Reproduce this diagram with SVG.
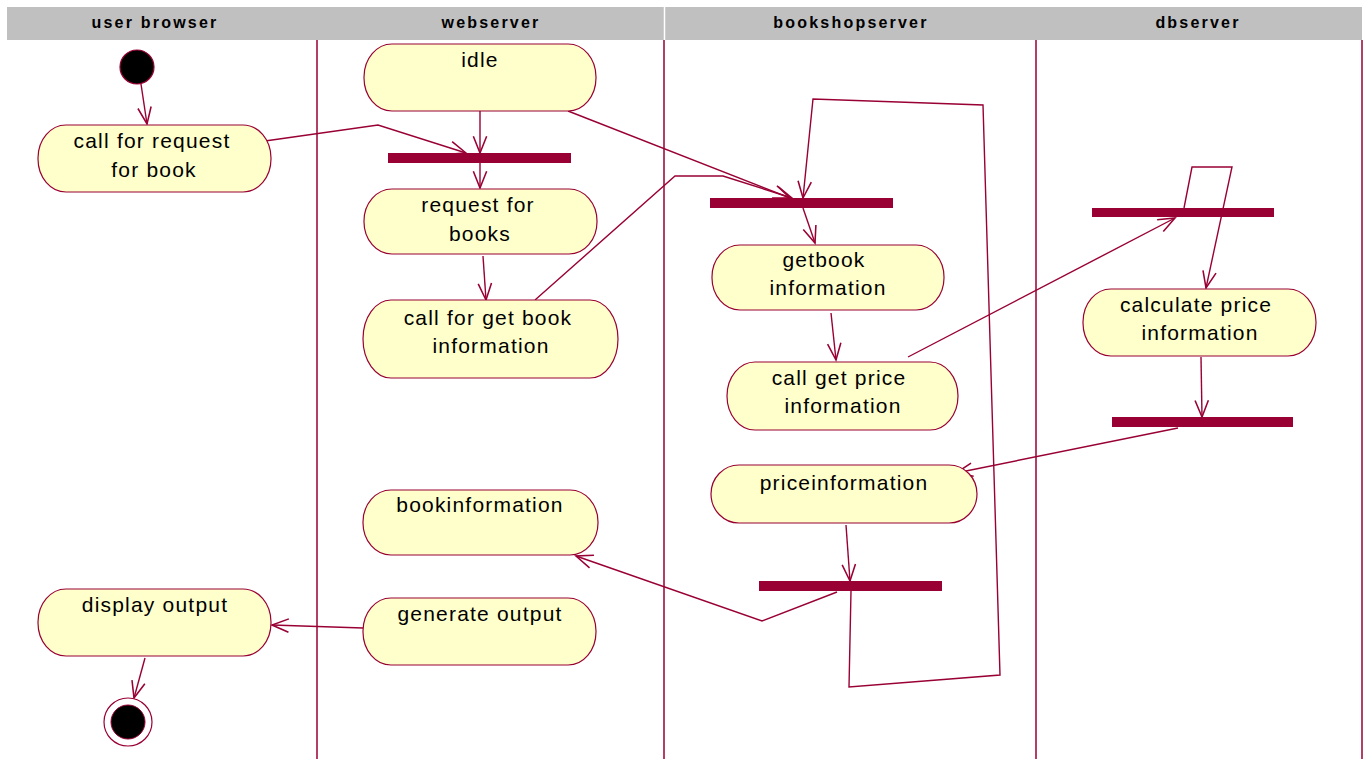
<svg xmlns="http://www.w3.org/2000/svg" width="1367" height="759" viewBox="0 0 1367 759">
<defs>
<style>
.hdr{font-family:"Liberation Sans",Arial,sans-serif;font-size:16px;font-weight:bold;letter-spacing:2.2px;text-anchor:middle;fill:#000}
.lane{stroke:#990033;stroke-width:1.5;fill:none}
.st{fill:#ffffcc;stroke:#990033;stroke-width:1.2}
.lbl{font-family:"Liberation Sans",Arial,sans-serif;font-size:21px;letter-spacing:1.2px;text-anchor:middle;fill:#000}
.bar{fill:#990033}
.ln{stroke:#990033;stroke-width:1.4;fill:none}
</style>
<marker id="ah" markerUnits="userSpaceOnUse" markerWidth="20" markerHeight="20" viewBox="-16 -8 18 16" refX="0" refY="0" orient="auto">
<path d="M -15 -6 L 0 0 L -15 6" fill="none" stroke="#990033" stroke-width="1.4"/>
</marker>
</defs>
<rect width="1367" height="759" fill="#ffffff"/>
<g id="header">
<rect x="7" y="7" width="1355" height="33" fill="#c0c0c0"/>
<line x1="664.5" y1="7" x2="664.5" y2="40" stroke="#ffffff" stroke-width="1.5"/>
<text class="hdr" x="155" y="28">user browser</text>
<text class="hdr" x="491" y="28">webserver</text>
<text class="hdr" x="851" y="28">bookshopserver</text>
<text class="hdr" x="1198" y="28">dbserver</text>
</g>
<g id="lanes">
<line class="lane" x1="317" y1="40" x2="317" y2="759"/>
<line class="lane" x1="664" y1="40" x2="664" y2="759"/>
<line class="lane" x1="1036" y1="40" x2="1036" y2="759"/>
<line class="lane" x1="1362" y1="40" x2="1362" y2="759"/>
</g>
<g id="connectors">
<line class="ln" x1="141" y1="84" x2="147" y2="124" marker-end="url(#ah)"/>
<polyline class="ln" points="265,141 378,125 466,153" marker-end="url(#ah)"/>
<line class="ln" x1="480" y1="111" x2="480" y2="153" marker-end="url(#ah)"/>
<line class="ln" x1="480" y1="163" x2="480" y2="188" marker-end="url(#ah)"/>
<line class="ln" x1="483" y1="256" x2="486" y2="300" marker-end="url(#ah)"/>
<line class="ln" x1="568" y1="111" x2="790" y2="198" marker-end="url(#ah)"/>
<polyline class="ln" points="535,300 675,176 723,176 792,198" marker-end="url(#ah)"/>
<polyline class="ln" points="851,591 849,687 1000,675 983,105 813,99 803,198" marker-end="url(#ah)"/>
<line class="ln" x1="803" y1="208" x2="815" y2="243" marker-end="url(#ah)"/>
<line class="ln" x1="831" y1="313" x2="836" y2="360" marker-end="url(#ah)"/>
<line class="ln" x1="908" y1="357" x2="1175" y2="218" marker-end="url(#ah)"/>
<polyline class="ln" points="1184,208 1192,167 1232,167 1206,288" marker-end="url(#ah)"/>
<line class="ln" x1="1201" y1="357" x2="1202" y2="417" marker-end="url(#ah)"/>
<line class="ln" x1="1178" y1="428" x2="956" y2="473" marker-end="url(#ah)"/>
<line class="ln" x1="846" y1="525" x2="850" y2="581" marker-end="url(#ah)"/>
<polyline class="ln" points="837,592 762,621 576,556" marker-end="url(#ah)"/>
<line class="ln" x1="363" y1="628" x2="272" y2="625" marker-end="url(#ah)"/>
<line class="ln" x1="145" y1="658" x2="134" y2="698" marker-end="url(#ah)"/>
</g>
<g id="start">
<circle cx="137" cy="67" r="17" fill="#000" stroke="#990033" stroke-width="1.2"/>
</g>
<g id="n-callrequest">
<rect class="st" x="38" y="125" width="233" height="67" rx="28" ry="33"/>
<text class="lbl" x="152" y="148">call for request</text>
<text class="lbl" x="154" y="177">for book</text>
</g>
<g id="n-idle">
<rect class="st" x="364" y="44" width="232" height="67" rx="28" ry="33"/>
<text class="lbl" x="480" y="67">idle</text>
</g>
<g id="bar1"><rect class="bar" x="388" y="153" width="183" height="10"/></g>
<g id="n-requestbooks">
<rect class="st" x="364" y="189" width="233" height="65" rx="28" ry="32"/>
<text class="lbl" x="478" y="212">request for</text>
<text class="lbl" x="480" y="241">books</text>
</g>
<g id="n-callgetbook">
<rect class="st" x="363" y="300" width="255" height="78" rx="28" ry="39"/>
<text class="lbl" x="488" y="325">call for get book</text>
<text class="lbl" x="491" y="353">information</text>
</g>
<g id="bar2"><rect class="bar" x="710" y="198" width="183" height="10"/></g>
<g id="n-getbook">
<rect class="st" x="712" y="245" width="232" height="65" rx="28" ry="32"/>
<text class="lbl" x="824" y="267">getbook</text>
<text class="lbl" x="828" y="295">information</text>
</g>
<g id="n-callgetprice">
<rect class="st" x="727" y="362" width="231" height="68" rx="28" ry="34"/>
<text class="lbl" x="839" y="385">call get price</text>
<text class="lbl" x="843" y="413">information</text>
</g>
<g id="bar3"><rect class="bar" x="1092" y="208" width="182" height="9"/></g>
<g id="n-calcprice">
<rect class="st" x="1083" y="289" width="233" height="67" rx="28" ry="33"/>
<text class="lbl" x="1196" y="312">calculate price</text>
<text class="lbl" x="1200" y="340">information</text>
</g>
<g id="bar5"><rect class="bar" x="1112" y="417" width="181" height="10"/></g>
<g id="n-priceinfo">
<rect class="st" x="711" y="465" width="266" height="58" rx="28" ry="29"/>
<text class="lbl" x="844" y="490">priceinformation</text>
</g>
<g id="bar4"><rect class="bar" x="759" y="581" width="183" height="10"/></g>
<g id="n-bookinfo">
<rect class="st" x="363" y="490" width="235" height="65" rx="28" ry="32"/>
<text class="lbl" x="480" y="512">bookinformation</text>
</g>
<g id="n-generate">
<rect class="st" x="363" y="598" width="233" height="67" rx="28" ry="33"/>
<text class="lbl" x="480" y="621">generate output</text>
</g>
<g id="n-display">
<rect class="st" x="38" y="589" width="233" height="67" rx="28" ry="33"/>
<text class="lbl" x="155" y="612">display output</text>
</g>
<g id="final">
<circle cx="128" cy="722" r="24" fill="#ffffff" stroke="#990033" stroke-width="1.2"/>
<circle cx="128" cy="722" r="17" fill="#000" stroke="#990033" stroke-width="1"/>
</g>
</svg>
